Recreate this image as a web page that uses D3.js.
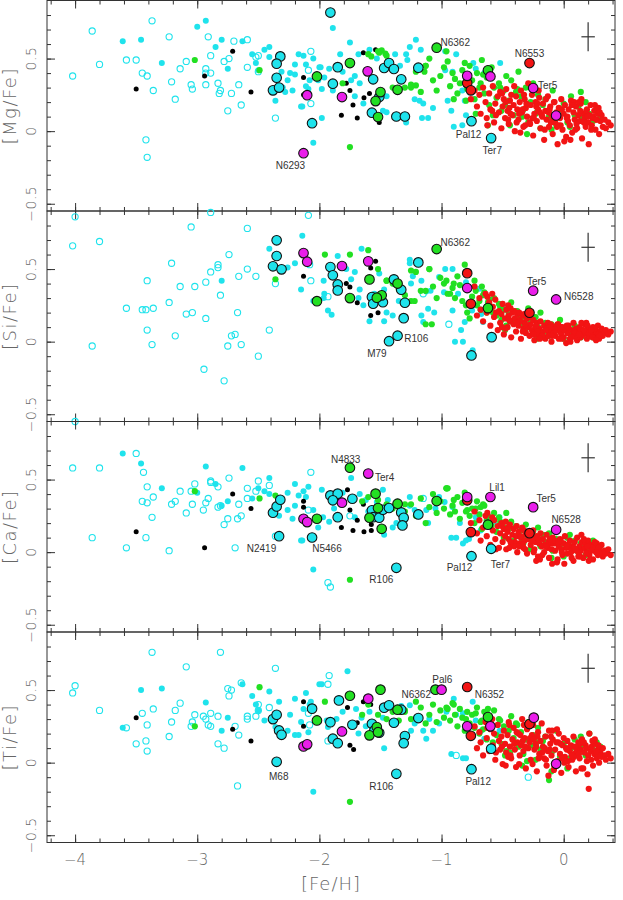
<!DOCTYPE html>
<html>
<head>
<meta charset="utf-8">
<title>alpha elements vs Fe/H</title>
<script src="https://cdnjs.cloudflare.com/ajax/libs/d3/7.8.5/d3.min.js"></script>
<style>
body { margin: 0; background: #fff; }
svg { display: block; }
.frame { fill: none; stroke: #333; stroke-width: 1; }
.tick line { stroke: #333; stroke-width: 1; }
.axlab { font-family: "DejaVu Sans", sans-serif; font-weight: 300; fill: #666; }
.note { font-family: "Liberation Sans", Arial, sans-serif; font-size: 10px; fill: #333; }
.open { fill: none; stroke: #1fe3ec; stroke-width: 1.1; }
.cyan { fill: #1fe3ec; }
.black { fill: #000; }
.green { fill: #22e022; }
.red { fill: #f21414; }
.big { stroke: #111; stroke-width: 1.1; }
.err { stroke: #333; stroke-width: 1.2; }
</style>
</head>
<body>
<svg width="623" height="900"></svg>
<script>
// tick labels and panel names
var xTickLabels = [-4, -3, -2, -1, 0];
var yTickLabels = [-0.5, 0, 0.5];
var panelNames = ["[Mg/Fe]", "[Si/Fe]", "[Ca/Fe]", "[Ti/Fe]"];

// typical error bar
var errX = 0.2, errY = 0.65, errDx = 0.055, errDy = 0.1;

// bulge field stars (red) - same stars in every panel
var redFeH = [-0.76,-0.73,-0.71,-0.69,-0.68,-0.66,-0.64,-0.63,-0.61,-0.60,
  -0.58,-0.57,-0.56,-0.54,-0.53,-0.52,-0.51,-0.50,-0.49,-0.48,
  -0.47,-0.46,-0.45,-0.44,-0.43,-0.42,-0.41,-0.40,-0.39,-0.38,
  -0.37,-0.36,-0.35,-0.34,-0.33,-0.32,-0.31,-0.30,-0.29,-0.28,
  -0.27,-0.26,-0.25,-0.24,-0.23,-0.22,-0.21,-0.20,-0.19,-0.18,
  -0.17,-0.16,-0.15,-0.14,-0.13,-0.12,-0.11,-0.10,-0.09,-0.08,
  -0.07,-0.06,-0.05,-0.04,-0.03,-0.02,-0.01,0.00,0.01,0.02,
  0.03,0.04,0.05,0.06,0.07,0.08,0.09,0.10,0.11,0.12,
  0.13,0.14,0.15,0.16,0.17,0.18,0.19,0.20,0.21,0.22,
  0.23,0.24,0.25,0.26,0.27,0.28,0.29,0.30,0.31,0.32,
  0.335,0.345,0.365,0.385,-0.455,-0.355,-0.255,-0.155,-0.055,0.055,
  0.145,0.255,-0.405,-0.305,-0.205,-0.105,0.005,0.105,0.205,-0.625,
  -0.555,-0.475,-0.335,-0.225,-0.125,-0.025,0.085,0.185,0.285,-0.385,
  -0.275,-0.175,-0.075,0.035,0.135,0.235,-0.435,-0.325,-0.215,-0.115,
  -0.015,0.095,0.195,0.295,-0.585,-0.505,-0.365,-0.245,-0.145,-0.045,
  0.065,0.165,0.265,-0.445,-0.315,-0.195,-0.095,0.025,0.125,0.225];
var redMg = [0.22,0.28,0.17,0.25,0.12,0.30,0.20,0.09,0.26,0.15,
  0.31,0.06,0.19,0.24,0.13,0.27,0.02,0.17,0.22,0.09,
  0.29,0.14,0.05,0.21,0.25,0.11,0.18,0.00,0.24,0.15,
  0.08,0.20,0.28,0.13,0.03,0.22,0.16,0.10,0.33,0.06,
  0.18,0.25,-0.03,0.12,0.20,0.07,0.15,0.23,0.02,0.11,
  0.19,-0.06,0.14,0.08,0.24,0.03,0.17,0.11,-0.02,0.20,
  0.06,0.13,-0.09,0.16,0.09,0.22,0.01,0.12,0.18,-0.04,
  0.10,0.15,0.04,0.21,-0.01,0.13,0.08,0.17,0.02,0.11,
  0.07,0.19,-0.05,0.12,0.09,0.03,0.15,0.06,0.11,0.18,
  0.04,0.10,0.14,0.01,0.08,0.12,-0.02,0.07,0.11,0.03,
  0.08,0.02,0.06,0.04,0.08,-0.01,0.09,0.01,0.03,-0.06,
  0.22,0.18,0.31,0.19,0.28,0.06,-0.07,0.05,-0.09,0.04,
  0.11,0.20,0.15,0.17,0.13,0.04,0.20,0.14,0.16,0.06,
  0.05,0.10,0.20,0.07,0.14,0.09,0.12,0.25,0.19,0.15,
  0.15,0.01,0.10,0.13,0.14,0.26,0.12,0.09,0.22,0.04,
  0.18,0.06,0.08,0.16,0.04,0.13,0.07,0.09,0.20,0.01];
var redSi = [0.25,0.38,0.18,0.30,0.22,0.14,0.33,0.20,0.27,0.11,
  0.24,0.17,0.29,0.08,0.21,0.13,0.19,0.26,0.05,0.16,
  0.22,0.10,0.18,0.14,0.03,0.20,0.12,0.16,0.07,0.19,
  0.11,0.15,0.02,0.18,0.09,0.13,0.06,0.16,0.10,0.04,
  0.12,0.08,0.15,0.01,0.10,0.13,0.05,0.09,0.14,0.03,
  0.07,0.11,0.02,0.09,0.13,0.05,0.08,0.00,0.10,0.06,
  0.04,0.09,0.12,0.02,0.07,0.05,0.10,0.03,0.08,-0.01,
  0.06,0.11,0.02,0.08,0.04,0.13,0.05,0.09,0.01,0.07,
  0.10,0.03,0.08,0.05,0.12,0.06,0.02,0.09,0.04,0.07,
  0.05,0.10,0.03,0.08,0.06,0.11,0.02,0.07,0.09,0.04,
  0.06,0.08,0.05,0.07,0.25,0.14,0.06,0.03,0.11,0.00,
  0.13,0.09,0.21,0.16,0.04,0.12,0.08,0.03,0.06,0.31,
  0.20,0.09,0.07,0.11,0.04,0.10,0.07,0.13,0.05,0.13,
  0.17,0.04,0.06,0.10,0.08,0.03,0.23,0.19,0.07,0.10,
  0.02,0.06,0.11,0.04,0.33,0.10,0.20,0.05,0.08,0.12,
  0.03,0.08,0.01,0.15,0.12,0.02,0.04,0.11,0.05,0.08];
var redCa = [0.20,0.28,0.13,0.22,0.08,0.17,0.25,0.11,0.19,0.05,
  0.15,0.22,0.09,0.18,0.03,0.13,0.20,0.07,0.16,0.11,
  0.02,0.14,0.09,0.19,0.05,0.12,0.16,0.07,0.11,0.00,
  0.14,0.06,0.10,0.17,0.03,0.08,0.12,-0.01,0.09,0.13,
  0.05,0.10,0.15,0.02,0.07,0.11,-0.03,0.06,0.13,0.04,
  0.09,0.00,0.05,0.12,0.03,-0.04,0.08,0.02,0.10,0.06,
  0.01,0.07,-0.05,0.04,0.09,0.02,-0.02,0.06,0.11,0.03,
  -0.01,0.05,0.08,0.00,0.04,-0.06,0.07,0.02,0.10,-0.03,
  0.04,0.01,0.07,-0.04,0.03,0.06,0.00,0.08,-0.02,0.05,
  0.02,-0.05,0.04,0.01,0.06,-0.02,0.03,0.00,0.05,-0.03,
  0.01,-0.01,0.02,-0.02,0.17,0.11,0.08,0.05,-0.07,0.03,
  0.12,0.07,0.04,0.13,0.09,0.06,-0.08,0.01,-0.06,0.27,
  0.02,0.21,0.05,-0.06,0.07,0.08,0.03,-0.01,0.03,0.18,
  0.12,-0.02,0.08,0.05,-0.03,0.03,0.07,0.15,0.10,0.09,
  0.00,0.02,0.04,-0.01,0.24,0.18,0.04,0.00,0.04,0.07,
  -0.04,0.09,0.00,0.03,0.02,-0.05,-0.08,0.04,-0.02,0.01];
var redTi = [0.18,0.25,0.10,0.21,0.14,0.05,0.28,0.17,0.08,0.23,
  0.12,0.20,0.02,0.26,0.15,0.09,0.18,-0.01,0.22,0.13,
  0.07,0.19,0.28,0.11,0.03,0.16,0.24,0.09,-0.03,0.14,
  0.20,0.05,0.12,0.30,0.08,0.17,-0.04,0.23,0.10,0.14,
  0.02,0.19,0.26,0.09,0.13,-0.06,0.21,0.06,0.15,0.27,
  0.11,0.03,0.18,-0.02,0.08,0.22,0.13,0.05,0.16,-0.05,
  0.09,0.14,0.01,0.20,0.06,-0.07,0.12,0.17,0.04,0.10,
  0.15,-0.03,0.08,0.12,0.02,0.18,0.06,-0.06,0.10,0.14,
  0.03,0.09,0.16,-0.04,0.07,0.12,0.01,0.05,0.20,0.08,
  0.11,-0.02,0.06,0.13,0.03,0.09,0.00,0.07,0.04,0.10,
  0.05,0.02,0.06,0.03,0.04,0.19,-0.01,0.10,0.23,0.11,
  -0.04,0.16,0.13,0.25,0.03,0.18,0.00,0.09,-0.18,0.24,
  0.07,-0.02,0.15,0.11,-0.09,0.13,0.04,0.10,0.12,0.21,
  0.17,0.07,-0.03,0.01,0.13,0.15,0.05,0.26,0.18,0.09,
  0.03,0.11,-0.08,0.05,0.30,0.11,-0.01,0.16,0.02,0.14,
  0.05,0.14,0.08,0.26,0.11,0.04,0.22,0.09,0.06,0.02];

// disc / thick-disc field stars (green)
var greenFeH = [-1.30,-1.25,-1.21,-1.17,-1.13,-1.10,-1.07,-1.04,-1.01,-0.98,
  -0.96,-0.93,-0.91,-0.89,-0.87,-0.85,-0.83,-0.81,-0.79,-0.77,
  -0.75,-0.73,-0.71,-0.69,-0.67,-0.65,-0.63,-0.61,-0.59,-0.57,
  -0.55,-0.53,-0.51,-0.49,-0.47,-0.45,-0.43,-0.41,-0.39,-0.37,
  -0.35,-0.33,-0.31,-0.29,-0.27,-0.25,-0.23,-0.21,-0.19,-0.17,
  -0.15,-0.12,-0.09,-0.06,-0.03,0.00,0.03,0.06,0.09,0.12,
  0.15,0.18,0.21,0.24,0.27,0.30,-0.90,-0.72,-0.62,-0.52,
  -0.44,-0.38,-0.30,-0.22,-0.10,0.05,0.14,-0.80,-0.66,-0.58,
  -1.75,-1.60,-1.52,-1.45,-1.40,-1.35,-0.95,-0.68,-0.48,-0.34];
var greenMg = [0.30,0.32,0.41,0.27,0.45,0.50,0.35,0.28,0.38,0.44,
  0.55,0.31,0.40,0.36,0.26,0.33,0.42,0.47,0.29,0.45,
  0.35,0.22,0.40,0.30,0.49,0.26,0.37,0.18,0.44,0.30,
  0.23,0.33,0.14,0.28,0.38,0.21,0.35,0.11,0.27,0.41,
  0.24,0.15,0.30,0.06,0.20,0.33,0.12,0.25,0.02,0.18,
  0.22,0.10,0.28,0.04,0.15,0.19,0.06,0.24,0.11,0.17,
  0.09,0.20,0.12,0.07,0.15,0.10,0.22,0.12,0.04,0.30,
  0.04,0.29,-0.02,0.13,0.01,0.03,0.27,0.21,0.39,0.11,
  -0.11,0.53,0.55,0.52,0.30,0.28,0.48,0.33,0.18,0.10];
var greenSi = [0.32,0.28,0.48,0.35,0.12,0.50,0.38,0.30,0.44,0.40,
  0.42,0.33,0.37,0.30,0.45,0.39,0.28,0.53,0.20,0.16,
  0.31,0.42,0.25,0.28,0.38,0.34,0.20,0.29,0.24,0.30,
  0.18,0.26,0.15,0.22,0.11,0.19,0.27,0.13,0.21,0.16,
  0.12,0.18,0.09,0.23,0.14,0.07,0.17,0.10,0.20,0.06,
  0.13,0.04,0.10,0.08,0.15,0.02,0.09,0.05,0.11,0.07,
  0.04,0.06,0.09,0.03,0.07,0.05,0.40,0.35,0.27,0.24,
  0.14,0.21,0.11,0.02,0.12,0.06,0.03,0.25,0.32,0.20,
  0.60,0.63,0.50,0.42,0.40,0.36,0.33,0.22,0.08,0.17];
var greenCa = [0.28,0.33,0.25,0.37,0.20,0.31,0.40,0.27,0.35,0.30,
  0.44,0.26,0.32,0.28,0.38,0.23,0.34,0.41,0.29,0.25,
  0.30,0.20,0.35,0.26,0.16,0.32,0.22,0.37,0.18,0.27,
  0.14,0.24,0.19,0.10,0.27,0.16,0.21,0.08,0.18,0.12,
  0.15,0.06,0.19,0.11,0.02,0.14,0.09,0.17,0.04,0.12,
  0.07,0.13,0.01,0.09,0.05,-0.03,0.10,0.04,0.08,0.00,
  0.06,-0.02,0.03,0.08,0.01,0.04,0.36,0.30,0.25,0.21,
  0.20,0.05,0.13,0.07,-0.04,0.12,0.06,0.28,0.33,0.22,
  -0.19,0.38,0.36,0.33,0.30,0.31,0.44,0.31,0.17,0.09];
var greenTi = [0.35,0.30,0.42,0.38,0.27,0.33,0.40,0.28,0.36,0.31,
  0.38,0.29,0.41,0.33,0.25,0.37,0.31,0.22,0.35,0.27,
  0.33,0.24,0.38,0.20,0.29,0.35,0.16,0.31,0.26,0.36,
  0.19,0.30,0.13,0.25,0.08,0.22,0.32,0.17,0.27,0.11,
  0.21,0.06,0.16,0.28,0.12,0.19,0.02,0.24,0.09,0.15,
  0.18,-0.12,0.08,0.22,0.04,0.13,-0.04,0.10,0.16,0.07,
  0.12,0.05,0.20,0.09,0.14,0.11,0.40,0.34,0.37,0.29,
  0.07,0.26,0.01,0.14,-0.06,0.03,0.18,0.30,0.23,0.14,
  -0.27,0.40,0.33,0.30,0.35,0.29,0.37,0.28,0.05,-0.02];
var greenExtraMg = [[-3.02,0.49],[-2.49,0.42],[-2.36,0.47],[-1.81,0.33],[-1.49,0.556],[-1.46,0.534],[-1.575,0.515],[-1.25,0.30],[-1.21,0.315],[-1.14,0.41],[-1.13,0.45],[-1.51,0.54]];
var greenExtraSi = [[-2.36,0.43],[-1.955,0.60],[-1.45,0.42],[-1.25,0.49],[-1.22,0.28],[-1.13,0.35],[-1.10,0.50],[-1.08,0.12]];
var greenExtraCa = [[-3.02,0.42],[-2.49,0.37],[-2.36,0.39],[-0.96,0.44],[-1.30,0.33],[-1.65,0.35],[-1.45,0.30]];
var greenExtraTi = [[-3.02,0.25],[-2.49,0.52],[-1.955,0.42],[-1.30,0.36],[-1.65,0.33]];

// halo field stars, open cyan
var openMg = [[-4.02,0.38],[-3.86,0.69],[-3.80,0.46],[-3.58,0.49],[-3.50,0.49],[-3.37,0.76],[-3.45,0.40],[-3.41,0.38],[-3.36,0.28],[-3.42,-0.06],[-3.41,-0.18],[-3.23,0.65],[-3.21,0.34],[-3.18,0.22],[-3.14,0.43],[-3.09,0.48],[-3.05,0.32],[-3.04,0.29],[-2.93,0.43],[-2.93,0.40],[-2.93,0.32],[-2.91,0.65],[-2.89,0.52],[-2.89,0.40],[-2.83,0.33],[-2.82,0.26],[-2.81,0.28],[-2.78,0.48],[-2.74,0.50],[-2.75,0.14],[-2.72,0.26],[-2.70,0.62],[-2.66,0.32],[-2.64,0.18],[-2.59,0.63],[-2.59,0.44],[-2.52,0.51],[-2.50,0.52],[-2.50,0.41],[-2.36,0.09],[-2.07,0.55],[-2.09,0.42],[-2.07,0.19]];
var openSi = [[-4.00,0.86],[-2.89,0.89],[-2.09,0.87],[-4.02,0.66],[-3.80,0.69],[-3.05,0.79],[-2.59,0.78],[-2.74,0.60],[-3.21,0.54],[-2.83,0.53],[-2.83,0.51],[-2.89,0.48],[-2.59,0.50],[-2.52,0.45],[-2.66,0.45],[-3.41,0.42],[-3.14,0.38],[-3.02,0.38],[-2.93,0.41],[-2.81,0.32],[-3.23,0.27],[-3.58,0.23],[-3.45,0.22],[-3.42,0.22],[-3.36,0.23],[-3.09,0.19],[-3.04,0.20],[-2.93,0.16],[-2.67,0.20],[-3.41,0.08],[-3.18,0.04],[-2.72,0.04],[-2.69,0.05],[-3.86,-0.03],[-3.37,-0.02],[-2.75,-0.03],[-2.64,-0.02],[-2.50,-0.10],[-2.945,-0.19],[-2.78,-0.27],[-2.41,0.08],[-2.36,0.40],[-2.07,0.42],[-2.08,0.53],[-4.00,-0.55],[-1.93,0.31],[-1.15,0.33],[-0.94,0.12]];
var openCa = [[-4.02,0.58],[-3.80,0.58],[-3.50,0.68],[-3.44,0.55],[-3.41,0.45],[-3.45,0.35],[-3.41,0.34],[-3.36,0.38],[-3.37,0.24],[-3.42,0.10],[-3.86,0.10],[-3.58,0.03],[-3.23,0.01],[-3.21,0.33],[-3.18,0.35],[-3.14,0.42],[-3.09,0.27],[-3.04,0.33],[-3.05,0.42],[-3.02,0.47],[-2.95,0.29],[-2.93,0.34],[-2.91,0.37],[-2.89,0.49],[-2.89,0.48],[-2.83,0.45],[-2.83,0.31],[-2.81,0.32],[-2.78,0.19],[-2.75,0.23],[-2.74,0.51],[-2.69,0.03],[-2.67,0.23],[-2.66,0.33],[-2.64,0.25],[-2.59,0.44],[-2.59,0.37],[-2.52,0.42],[-2.50,0.49],[-2.41,0.46],[-2.36,0.11],[-2.07,0.55],[-2.09,0.29],[-1.93,-0.21],[-1.91,-0.24],[-1.15,0.37],[-1.75,0.25]];
var openTi = [[-4.02,0.48],[-4.00,0.53],[-3.80,0.36],[-3.58,0.24],[-3.50,0.13],[-3.45,0.34],[-3.42,0.15],[-3.41,0.08],[-3.41,0.26],[-3.37,0.76],[-3.36,0.37],[-3.23,0.18],[-3.21,0.28],[-3.18,0.36],[-3.14,0.41],[-3.09,0.66],[-3.05,0.25],[-3.04,0.28],[-3.02,0.33],[-2.95,0.32],[-2.93,0.30],[-2.91,0.26],[-2.89,0.25],[-2.89,0.34],[-2.83,0.13],[-2.83,0.32],[-2.81,0.76],[-2.78,0.10],[-2.75,0.51],[-2.74,0.46],[-2.72,0.50],[-2.69,0.25],[-2.67,-0.16],[-2.66,0.19],[-2.64,0.55],[-2.59,0.32],[-2.59,0.30],[-2.52,0.32],[-2.50,0.40],[-2.50,0.36],[-2.41,0.38],[-2.36,0.65],[-1.92,0.60],[-1.93,0.54],[-2.09,0.34],[-1.93,0.15],[-0.88,0.05],[-0.29,-0.10],[-2.08,0.26]];

// halo field stars, filled cyan
var cyanMg = [[-3.61,0.62],[-3.46,0.63],[-3.29,0.47],[-3.00,0.72],[-2.93,0.76],[-2.85,0.58],[-2.80,0.63],[-2.75,0.43],[-2.63,0.62],[-2.55,0.53],[-2.52,0.47],[-2.50,0.42],[-2.45,0.56],[-2.41,0.58],[-2.41,0.51],[-2.36,0.21],[-2.30,0.30],[-2.26,0.35],[-2.24,0.40],[-2.20,0.46],[-2.20,0.39],[-2.17,0.53],[-2.13,0.52],[-2.11,0.46],[-2.22,0.28],[-2.15,0.17],[-2.11,0.31],[-2.08,0.35],[-2.05,-0.08],[-2.00,0.44],[-2.28,0.27],[-2.31,0.41],
  [-1.89,0.71],[-1.75,0.61],[-1.83,0.53],[-2.05,0.50],[-1.99,0.44],[-1.92,0.43],[-1.96,0.37],[-1.81,0.41],[-1.71,0.38],[-1.74,0.35],[-1.67,0.33],[-1.98,0.29],[-1.89,0.28],[-2.14,0.17],[-1.98,0.09],[-1.71,0.24],[-1.64,0.19],[-1.59,0.56],[-1.68,0.53],[-1.48,0.14],[-1.45,0.13],[-1.29,0.06],[-1.45,0.24],[-1.34,0.45],[-1.28,0.49],[-1.26,0.58],[-1.29,0.53],[-1.21,0.63],[-1.17,0.56],[-1.18,0.21],[-1.15,0.19],[-1.11,0.09],[-1.16,0.09],[-0.97,0.55],[-0.88,0.53],[-0.97,0.42],[-0.91,0.41],[-0.95,0.21],[-0.92,0.14],[-0.90,0.03],[-0.83,0.04],[-0.80,0.11],[-0.83,0.28],[-0.81,0.21],[-0.74,0.47],[-0.72,0.43],[-0.52,0.47],[-0.65,0.40],[-1.07,0.16],[-1.22,0.22],[-1.53,0.50],[-1.38,0.53],[-2.01,0.35],[-2.09,0.29]];
var cyanSi = [[-2.80,0.42],[-2.41,0.64],[-2.26,0.51],[-2.20,0.54],[-2.14,0.73],[-2.15,0.36],[-1.965,0.42],[-1.965,0.30],[-1.93,0.215],[-1.90,0.185],[-1.85,0.59],[-1.78,0.50],[-1.71,0.48],[-1.67,0.36],[-1.68,0.30],[-1.655,0.64],[-1.64,0.25],[-1.59,0.14],[-1.51,0.47],[-1.47,0.36],[-1.45,0.20],[-1.40,0.18],[-1.47,0.14],[-1.26,0.565],[-1.26,0.54],[-1.25,0.40],[-1.235,0.45],[-1.165,0.42],[-1.165,0.18],[-1.15,0.135],[-1.11,0.227],[-1.125,0.346],[-1.09,0.35],[-1.02,0.445],[-0.97,0.50],[-0.91,0.50],[-0.98,0.34],[-0.91,0.215],[-0.89,0.00],[-0.825,0.00],[-0.84,0.08],[-0.745,-0.06],[-0.81,0.135],[-0.75,0.215],[-0.865,0.33],[-0.80,0.41],[-0.69,0.365],[-0.525,0.26],[-0.50,0.24],[-0.675,0.19],[-0.66,0.135],[-2.05,0.28],[-1.96,0.33],[-1.74,0.43],[-1.55,0.33],[-1.35,0.28],[-1.06,0.20]];
var cyanCa = [[-3.61,0.68],[-3.46,0.61],[-3.29,0.44],[-3.00,0.41],[-2.93,0.59],[-2.85,0.47],[-2.80,0.32],[-2.75,0.35],[-2.63,0.58],[-2.55,0.37],[-2.50,0.44],[-2.45,0.42],[-2.41,0.51],[-2.41,0.40],[-2.33,0.25],[-2.26,0.29],[-2.20,0.47],[-2.20,0.32],[-2.17,0.39],[-2.13,0.42],[-2.11,0.38],[-2.15,0.08],[-2.05,-0.12],[-2.09,0.45],[-2.22,0.23],[-2.26,0.41],[-2.01,0.17],
  [-1.74,0.51],[-1.98,0.43],[-2.05,0.29],[-1.97,0.24],[-1.92,0.21],[-2.14,0.08],[-1.81,0.41],[-1.67,0.40],[-1.71,0.24],[-1.62,0.36],[-1.48,0.43],[-1.44,0.36],[-1.47,0.12],[-1.40,0.17],[-1.26,0.38],[-1.26,0.32],[-1.22,0.29],[-1.125,0.29],[-1.11,0.20],[-1.02,0.38],[-0.975,0.345],[-0.91,0.31],[-0.92,0.10],[-0.88,0.10],[-0.825,0.06],[-0.80,0.08],[-0.775,0.09],[-0.525,0.24],[-0.72,0.24],[-0.57,0.21],[-1.53,0.345],[-1.37,0.20],[-1.30,0.22],[-1.88,0.30],[-1.60,0.28],[-1.05,0.30],[-0.85,0.20],[-0.68,0.15]];
var cyanTi = [[-3.61,0.24],[-3.46,0.50],[-3.29,0.51],[-2.93,0.415],[-2.80,0.22],[-2.75,0.31],[-2.63,0.54],[-2.55,0.46],[-2.52,0.40],[-2.50,0.36],[-2.45,0.29],[-2.41,0.49],[-2.36,0.245],[-2.33,0.42],[-2.26,0.22],[-2.24,0.33],[-2.20,0.44],[-2.20,0.19],[-2.17,0.19],[-2.15,0.28],[-2.13,0.37],[-2.11,0.48],[-2.09,0.21],[-2.05,-0.20],[-2.08,0.40],[-2.00,0.54],
  [-1.77,0.63],[-1.98,0.54],[-2.07,0.42],[-1.94,0.29],[-1.93,0.245],[-1.81,0.35],[-1.70,0.37],[-1.655,0.31],[-1.68,0.20],[-1.59,0.35],[-1.48,0.31],[-1.47,0.10],[-1.33,0.39],[-1.26,0.395],[-1.25,0.22],[-1.22,0.27],[-1.15,0.22],[-1.125,0.165],[-1.07,0.22],[-1.02,0.27],[-0.96,0.35],[-0.90,0.44],[-0.88,0.33],[-0.825,0.34],[-0.825,0.03],[-0.80,0.03],[-0.92,0.06],[-0.745,0.42],[-0.72,0.29],[-0.675,0.22],[-0.65,0.165],[-0.525,0.22],[-1.21,0.31],[-1.86,0.30],[-1.62,0.25],[-1.40,0.28],[-1.10,0.30]];

// black dots
var blackMg = [[-3.50,0.29],[-2.94,0.38],[-2.71,0.55],[-2.56,0.27],[-2.13,0.37],[-2.13,0.25],[-1.64,0.54],[-1.54,0.56],[-1.78,0.33],[-1.75,0.28],[-1.635,0.23],[-1.59,0.26],[-1.725,0.18],[-1.82,0.11],[-1.69,0.09],[-1.51,0.06]];
var blackSi = [[-2.13,0.45],[-1.78,0.40],[-1.75,0.376],[-1.69,0.268],[-1.54,0.553],[-1.58,0.507],[-1.58,0.181],[-1.52,0.199]];
var blackCa = [[-3.50,0.14],[-2.94,0.03],[-2.71,0.40],[-2.56,0.30],[-2.13,0.31],[-2.13,0.35],[-1.77,0.43],[-1.75,0.29],[-1.64,0.33],[-1.69,0.22],[-1.82,0.17],[-1.725,0.15],[-1.635,0.14],[-1.575,0.15],[-1.575,0.19]];
var blackTi = [[-3.50,0.31],[-2.71,0.23],[-2.56,0.15],[-2.13,0.42],[-2.13,0.25],[-1.77,0.38],[-1.64,0.42],[-1.58,0.40],[-1.69,0.275],[-1.59,0.273],[-1.75,0.12],[-1.72,0.09]];

// globular clusters, large outlined symbols
var gcCyanMg = [[-2.32,0.515],[-2.35,0.465],[-2.35,0.368],[-2.38,0.281],[-2.33,0.30],[-2.06,0.055],[-1.91,0.817],[-1.85,0.441],[-1.89,0.327],[-1.56,0.357],[-1.57,0.127],[-1.47,0.435],[-1.43,0.469],[-1.39,0.428],[-1.33,0.357],[-1.37,0.101],[-1.30,0.101],[-1.19,0.437],[-0.755,0.069],[-0.594,-0.048],[-1.51,0.235]];
var gcGreenMg = [[-2.02,0.377],[-1.75,0.469],[-1.50,0.269],[-1.54,0.207],[-1.52,0.097],[-1.36,0.285],[-1.04,0.575],[-0.62,0.419]];
var gcRedMg = [[-0.28,0.469],[-0.79,0.331],[-0.76,0.281]];
var gcMagentaMg = [[-2.10,0.248],[-2.13,-0.152],[-1.605,0.412],[-1.815,0.235],[-0.79,0.381],[-0.60,0.377],[-0.25,0.297],[-0.062,0.108]];
var gcCyanSi = [[-2.35,0.698],[-2.35,0.59],[-2.38,0.519],[-2.31,0.498],[-1.91,0.514],[-1.89,0.457],[-1.85,0.394],[-1.85,0.353],[-1.57,0.307],[-1.56,0.261],[-1.48,0.272],[-1.39,0.429],[-1.33,0.358],[-1.30,0.268],[-1.31,0.162],[-1.43,0.003],[-1.36,0.041],[-1.19,0.546],[-0.59,0.031],[-0.755,-0.095]];
var gcGreenSi = [[-2.02,0.279],[-1.75,0.30],[-1.59,0.429],[-1.49,0.319],[-1.53,0.303],[-1.36,0.40],[-1.04,0.638],[-0.62,0.231]];
var gcRedSi = [[-0.79,0.472],[-0.76,0.261],[-0.28,0.199]];
var gcMagentaSi = [[-2.13,0.61],[-2.10,0.551],[-1.815,0.521],[-1.60,0.553],[-0.79,0.369],[-0.25,0.351],[-0.062,0.291]];
var gcCyanCa = [[-2.38,0.272],[-2.35,0.315],[-2.32,0.361],[-2.33,0.11],[-2.06,0.101],[-1.91,0.391],[-1.85,0.403],[-1.89,0.357],[-1.85,0.241],[-1.73,0.368],[-1.57,0.288],[-1.56,0.241],[-1.51,0.237],[-1.48,0.292],[-1.43,0.304],[-1.33,0.274],[-1.31,0.237],[-1.32,0.184],[-1.37,-0.108],[-1.19,0.26],[-0.755,-0.028],[-0.594,0.023]];
var gcGreenCa = [[-2.02,0.23],[-1.75,0.582],[-1.54,0.403],[-1.52,0.304],[-1.49,0.161],[-1.36,0.334],[-1.04,0.352],[-0.62,0.189],[-1.59,0.237]];
var gcRedCa = [[-0.79,0.357],[-0.76,0.138],[-0.28,0.131]];
var gcMagentaCa = [[-2.13,0.23],[-2.10,0.207],[-1.815,0.341],[-1.60,0.541],[-0.79,0.38],[-0.60,0.38],[-0.25,0.31],[-0.062,0.154]];
var gcCyanTi = [[-2.38,0.30],[-2.35,0.33],[-2.33,0.222],[-2.31,0.192],[-2.35,0.006],[-2.06,0.372],[-1.91,0.279],[-1.84,0.429],[-1.89,0.165],[-1.85,0.134],[-1.73,0.261],[-1.57,0.268],[-1.55,0.222],[-1.51,0.206],[-1.47,0.379],[-1.43,0.395],[-1.39,0.275],[-1.33,0.365],[-1.30,0.183],[-1.31,0.134],[-1.37,-0.077],[-1.19,0.307],[-0.755,-0.045],[-0.594,0.096]];
var gcGreenTi = [[-2.02,0.291],[-1.75,0.461],[-1.50,0.503],[-1.36,0.365],[-1.59,0.188],[-1.53,0.245],[-1.52,0.21],[-1.05,0.503],[-0.62,0.314]];
var gcRedTi = [[-0.79,0.521],[-0.76,0.185],[-0.28,0.266]];
var gcMagentaTi = [[-2.13,0.112],[-2.10,0.126],[-1.60,0.441],[-1.815,0.215],[-1.00,0.503],[-0.79,0.25],[-0.60,0.25],[-0.245,0.31],[-0.062,-0.008]];

// cluster names
var notesMg = [["N6293",-2.237,-0.237],["N6362",-0.888,0.614],["N6553",-0.28,0.538],["Ter5",-0.131,0.315],["Pal12",-0.779,-0.025],["Ter7",-0.585,-0.133]];
var notesSi = [["M79",-1.529,-0.079],["R106",-1.207,0.02],["N6362",-0.888,0.686],["Ter5",-0.221,0.415],["N6528",0.123,0.314]];
var notesCa = [["N4833",-1.785,0.639],["Ter4",-1.466,0.517],["N2419",-2.474,0.023],["N5466",-1.938,0.023],["R106",-1.493,-0.19],["Lil1",-0.545,0.448],["Ter5",-0.144,0.372],["N6528",0.02,0.223],["Pal12",-0.853,-0.108],["Ter7",-0.518,-0.085]];
var notesTi = [["M68",-2.333,-0.093],["R106",-1.493,-0.162],["Pal6",-0.994,0.572],["N6362",-1.207,0.47],["N6352",-0.608,0.47],["Pal12",-0.70,-0.128]];

function zip(xs, ys) { return xs.map(function (v, i) { return [v, ys[i]]; }); }

var panels = [
  { open: openMg, cyan: cyanMg, black: blackMg, green: zip(greenFeH, greenMg).concat(greenExtraMg), red: zip(redFeH, redMg),
    gc: [[gcCyanMg, "cyan"], [gcGreenMg, "green"], [gcRedMg, "red"], [gcMagentaMg, "magenta"]], notes: notesMg },
  { open: openSi, cyan: cyanSi, black: blackSi, green: zip(greenFeH, greenSi).concat(greenExtraSi), red: zip(redFeH, redSi),
    gc: [[gcCyanSi, "cyan"], [gcGreenSi, "green"], [gcRedSi, "red"], [gcMagentaSi, "magenta"]], notes: notesSi },
  { open: openCa, cyan: cyanCa, black: blackCa, green: zip(greenFeH, greenCa).concat(greenExtraCa), red: zip(redFeH, redCa),
    gc: [[gcCyanCa, "cyan"], [gcGreenCa, "green"], [gcRedCa, "red"], [gcMagentaCa, "magenta"]], notes: notesCa },
  { open: openTi, cyan: cyanTi, black: blackTi, green: zip(greenFeH, greenTi).concat(greenExtraTi), red: zip(redFeH, redTi),
    gc: [[gcCyanTi, "cyan"], [gcGreenTi, "green"], [gcRedTi, "red"], [gcMagentaTi, "magenta"]], notes: notesTi }
];
var gcFill = { cyan: "#1fe3ec", green: "#22e022", red: "#f21414", magenta: "#ea1eea" };

var svg = d3.select("svg");
var left = 47, right = 615, top0 = 0.5, panelH = 210.5;

var x = d3.scaleLinear().domain([-4.23, 0.42]).range([left, right]);
var xMinor = d3.range(-21, 3).map(function (i) { return i / 5; });
var yMinor = d3.range(-5, 9).map(function (i) { return i / 10; });

function ticks(g, axis) {
  g.call(axis);
  g.select(".domain").remove();
  g.selectAll("text").remove();
}

panels.forEach(function (p, k) {
  var y0 = top0 + k * panelH, y1 = y0 + panelH;
  var y = d3.scaleLinear().domain([-0.55, 0.9]).range([y1, y0]);
  var g = svg.append("g");

  // ticks on all four sides, pointing in
  [[xMinor, 4], [xTickLabels, 8]].forEach(function (t) {
    ticks(g.append("g").attr("transform", "translate(0," + y1 + ")"),
      d3.axisBottom(x).tickValues(t[0]).tickSizeInner(-t[1]).tickSizeOuter(0));
    ticks(g.append("g").attr("transform", "translate(0," + y0 + ")"),
      d3.axisTop(x).tickValues(t[0]).tickSizeInner(-t[1]).tickSizeOuter(0));
  });
  [[yMinor, 4], [yTickLabels, 8]].forEach(function (t) {
    ticks(g.append("g").attr("transform", "translate(" + left + ",0)"),
      d3.axisLeft(y).tickValues(t[0]).tickSizeInner(-t[1]).tickSizeOuter(0));
    ticks(g.append("g").attr("transform", "translate(" + right + ",0)"),
      d3.axisRight(y).tickValues(t[0]).tickSizeInner(-t[1]).tickSizeOuter(0));
  });
  g.append("rect").attr("class", "frame")
    .attr("x", left).attr("y", y0).attr("width", right - left).attr("height", panelH);

  // y tick labels (rotated)
  g.selectAll(".ylab").data(yTickLabels).enter().append("text")
    .attr("class", "axlab")
    .attr("font-size", 14)
    .attr("letter-spacing", 0.5)
    .attr("text-anchor", "middle")
    .attr("dy", "0.35em")
    .attr("transform", function (d) { return "translate(31," + y(d) + ") rotate(-90)"; })
    .text(function (d) { return d === 0 ? "0" : d3.format(".1f")(d); });

  g.append("text").attr("class", "axlab")
    .attr("font-size", 18)
    .attr("letter-spacing", 1.5)
    .attr("text-anchor", "middle")
    .attr("dy", "0.35em")
    .attr("transform", "translate(10," + (y0 + y1) / 2 + ") rotate(-90)")
    .text(panelNames[k]);

  // field stars
  g.selectAll(".open").data(p.open).enter().append("circle").attr("class", "open")
    .attr("cx", function (d) { return x(d[0]); }).attr("cy", function (d) { return y(d[1]); }).attr("r", 3.1);
  g.selectAll(".cyan").data(p.cyan).enter().append("circle").attr("class", "cyan")
    .attr("cx", function (d) { return x(d[0]); }).attr("cy", function (d) { return y(d[1]); }).attr("r", 3);
  g.selectAll(".black").data(p.black).enter().append("circle").attr("class", "black")
    .attr("cx", function (d) { return x(d[0]); }).attr("cy", function (d) { return y(d[1]); }).attr("r", 2.5);
  g.selectAll(".green").data(p.green).enter().append("circle").attr("class", "green")
    .attr("cx", function (d) { return x(d[0]); }).attr("cy", function (d) { return y(d[1]); }).attr("r", 3.1);
  g.selectAll(".red").data(p.red).enter().append("circle").attr("class", "red")
    .attr("cx", function (d) { return x(d[0]); }).attr("cy", function (d) { return y(d[1]); }).attr("r", 3.1);

  // clusters
  p.gc.forEach(function (s) {
    g.selectAll(".gc-" + s[1]).data(s[0]).enter().append("circle")
      .attr("class", "big gc-" + s[1])
      .attr("fill", gcFill[s[1]])
      .attr("cx", function (d) { return x(d[0]); }).attr("cy", function (d) { return y(d[1]); }).attr("r", 4.8);
  });

  g.selectAll(".note").data(p.notes).enter().append("text").attr("class", "note")
    .attr("text-anchor", "middle").attr("dy", "0.35em")
    .attr("x", function (d) { return x(d[1]); }).attr("y", function (d) { return y(d[2]); })
    .text(function (d) { return d[0]; });

  // error cross
  g.append("line").attr("class", "err")
    .attr("x1", x(errX - errDx)).attr("x2", x(errX + errDx)).attr("y1", y(errY)).attr("y2", y(errY));
  g.append("line").attr("class", "err")
    .attr("x1", x(errX)).attr("x2", x(errX)).attr("y1", y(errY - errDy)).attr("y2", y(errY + errDy));

  if (k === panels.length - 1) {
    g.selectAll(".xlab").data(xTickLabels).enter().append("text")
      .attr("class", "axlab").attr("font-size", 15)
      .attr("text-anchor", "middle")
      .attr("x", function (d) { return x(d); }).attr("y", y1 + 22)
      .text(function (d) { return d3.format("d")(d); });
    svg.append("text").attr("class", "axlab").attr("font-size", 18)
      .attr("letter-spacing", 1)
      .attr("text-anchor", "middle")
      .attr("x", (left + right) / 2).attr("y", y1 + 47)
      .text("[Fe/H]");
  }
});
</script>
</body>
</html>
